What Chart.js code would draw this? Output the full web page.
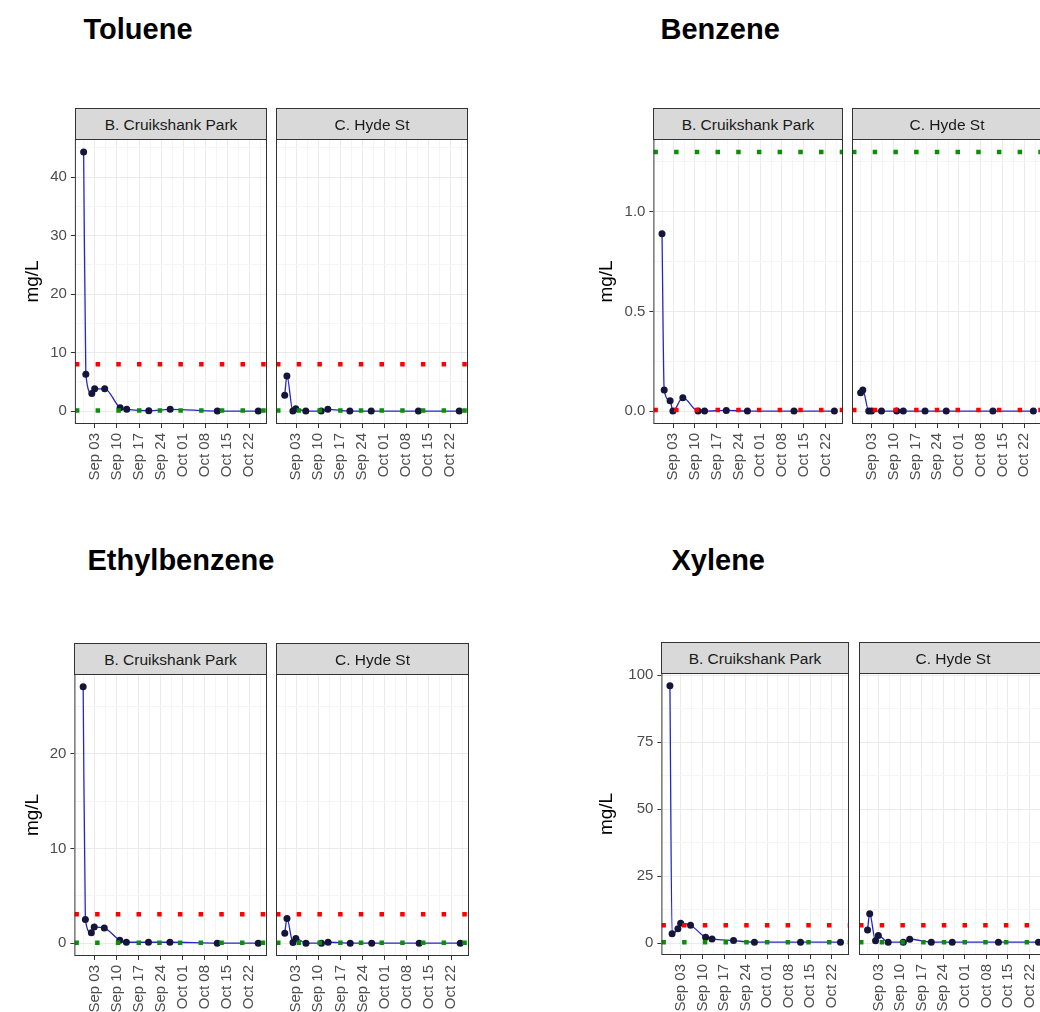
<!DOCTYPE html>
<html>
<head>
<meta charset="utf-8">
<script src="https://cdn.jsdelivr.net/npm/chart.js@4.4.1/dist/chart.umd.min.js"></script>
<style>
  html, body { margin: 0; padding: 0; background: #fff; }
  #page { position: relative; width: 1040px; height: 1012px; overflow: hidden; font-family: "Liberation Sans", Arial, sans-serif; }
  .title { position: absolute; font-weight: bold; font-size: 29px; line-height: 29px; color: #000; white-space: nowrap; }
  .strip { position: absolute; box-sizing: border-box; border: 1px solid #333; background: #d9d9d9; color: #1a1a1a; font-size: 15.5px; text-align: center; white-space: nowrap; }
  .strip span { position: relative; top: 1px; }
  canvas { position: absolute; }
</style>
</head>
<body>
<div id="page"></div>
<script>
// sampling days, counted from 31 Aug (Sep 03 = 3, Oct 01 = 31)
const sampleDay = [-0.6, 0.1, 2, 2.9, 6.1, 11, 13.1, 20.1, 26.9, 41.9, 54.9];
const sites = ['B. Cruikshank Park', 'C. Hyde St'];

const xTickDays = [3, 10, 17, 24, 31, 38, 45, 52];
const xTickLabels = ['Sep 03', 'Sep 10', 'Sep 17', 'Sep 24', 'Oct 01', 'Oct 08', 'Oct 15', 'Oct 22'];
const xMinorDays = [-0.5, 6.5, 13.5, 20.5, 27.5, 34.5, 41.5, 48.5, 55.5];

// mg/L per sample, site B then site C; limits = [red, green]
const tolueneB = [44.3, 6.3, 3.0, 3.8, 3.8, 0.55, 0.3, 0.05, 0.3, 0, 0];
const tolueneC = [2.7, 6.0, 0, 0.4, 0, 0, 0.3, 0, 0, 0, 0];
const tolueneLimits = [8, 0.1];
const tolueneYTicks = [0, 10, 20, 30, 40];
const tolueneYLabels = ['0', '10', '20', '30', '40'];
const tolueneYMinor = [5, 15, 25, 35, 45];

const benzeneB = [0.89, 0.106, 0.052, 0, 0.067, 0, 0, 0.003, 0, 0, 0];
const benzeneC = [0.092, 0.106, 0, 0, 0, 0, 0, 0, 0, 0, 0];
const benzeneLimits = [0.005, 1.3];
const benzeneYTicks = [0, 0.5, 1.0];
const benzeneYLabels = ['0.0', '0.5', '1.0'];
const benzeneYMinor = [0.25, 0.75, 1.25];

const ethylB = [27.1, 2.5, 1.1, 1.7, 1.6, 0.3, 0.1, 0.1, 0.1, 0, 0];
const ethylC = [1.05, 2.6, 0.07, 0.5, 0, 0, 0.1, 0, 0, 0, 0];
const ethylLimits = [3.05, 0.05];
const ethylYTicks = [0, 10, 20];
const ethylYLabels = ['0', '10', '20'];
const ethylYMinor = [5, 15, 25];

const xyleneB = [96.0, 3.5, 5.4, 7.5, 6.7, 2.2, 1.6, 1.0, 0.4, 0.4, 0.4];
const xyleneC = [4.9, 11.0, 0.9, 2.9, 0.4, 0.4, 1.5, 0.4, 0.4, 0.4, 0.4];
const xyleneLimits = [6.7, 0.4];
const xyleneYTicks = [0, 25, 50, 75, 100];
const xyleneYLabels = ['0', '25', '50', '75', '100'];
const xyleneYMinor = [12.5, 37.5, 62.5, 87.5];

const panels = [
  { name: 'Toluene', series: [tolueneB, tolueneC], limits: tolueneLimits,
    yTicks: tolueneYTicks, yLabels: tolueneYLabels, yMinor: tolueneYMinor,
    titleX: 83.5, titleBase: 39, stripTop: 108, plotTop: 139, plotBottom: 424, yTitleX: 32.5,
    facets: [[75, 267], [276, 468]] },
  { name: 'Benzene', series: [benzeneB, benzeneC], limits: benzeneLimits,
    yTicks: benzeneYTicks, yLabels: benzeneYLabels, yMinor: benzeneYMinor,
    titleX: 660.5, titleBase: 39, stripTop: 108, plotTop: 139, plotBottom: 424, yTitleX: 606,
    facets: [[653, 843], [852, 1042]] },
  { name: 'Ethylbenzene', series: [ethylB, ethylC], limits: ethylLimits,
    yTicks: ethylYTicks, yLabels: ethylYLabels, yMinor: ethylYMinor,
    titleX: 87.5, titleBase: 570, stripTop: 643, plotTop: 674, plotBottom: 956, yTitleX: 32,
    facets: [[74, 267], [276, 469]] },
  { name: 'Xylene', series: [xyleneB, xyleneC], limits: xyleneLimits,
    yTicks: xyleneYTicks, yLabels: xyleneYLabels, yMinor: xyleneYMinor,
    titleX: 671.5, titleBase: 570, stripTop: 642, plotTop: 673, plotBottom: 955, yTitleX: 606,
    facets: [[661, 849], [859, 1047]] }
];

const FONT = '"Liberation Sans", Arial, sans-serif';
const page = document.getElementById('page');

// ggplot-style 5% expansion of the data range
function expandRange(values) {
  const lo = Math.min(...values), hi = Math.max(...values);
  const pad = (hi - lo) * 0.05;
  return [lo - pad, hi + pad];
}

const panelBorder = {
  id: 'panelBorder',
  afterDraw(chart) {
    const a = chart.chartArea, c = chart.ctx;
    c.save();
    c.strokeStyle = '#333';
    c.lineWidth = 1;
    c.strokeRect(a.left + 0.5, a.top + 0.5, a.right - a.left - 1, a.bottom - a.top - 1);
    c.restore();
  }
};

function makeFacet(p, k, xLim, yLim) {
  const [left, right] = p.facets[k];
  const first = k === 0;
  const padTop = 20, padLeft = 10, padRight = 30, xAxisH = 60;
  const canvasLeft = first ? p.yTitleX - 15.4 : left - padLeft;
  const yW = first ? left - canvasLeft : 0;
  const w = Math.round(right - canvasLeft + padRight);
  const h = p.plotBottom - p.plotTop + padTop + xAxisH;

  // strip label
  const strip = document.createElement('div');
  strip.className = 'strip';
  strip.style.left = left + 'px';
  strip.style.top = p.stripTop + 'px';
  strip.style.width = (right - left) + 'px';
  strip.style.height = (p.plotTop - p.stripTop + 1) + 'px';
  strip.style.lineHeight = (p.plotTop - p.stripTop - 1) + 'px';
  strip.innerHTML = '<span>' + sites[k] + '</span>';
  page.appendChild(strip);

  const cv = document.createElement('canvas');
  cv.width = w; cv.height = h;
  cv.style.width = w + 'px'; cv.style.height = h + 'px';
  cv.style.left = canvasLeft + 'px';
  cv.style.top = (p.plotTop - padTop) + 'px';
  page.appendChild(cv);

  const yAll = p.yTicks.concat(p.yMinor).sort((a, b) => a - b);
  const xAll = xTickDays.concat(xMinorDays).filter(v => v >= xLim[0] && v <= xLim[1]).sort((a, b) => a - b);
  const yMajor = v => p.yTicks.indexOf(v) >= 0;
  const xMajor = v => xTickDays.indexOf(v) >= 0;

  const limitLine = v => [{ x: xLim[0], y: v }, { x: xLim[1], y: v }];
  const vals = p.series[k];

  new Chart(cv, {
    type: 'line',
    data: {
      datasets: [
        { data: limitLine(p.limits[0]), borderColor: '#ff0000', borderWidth: 4.5, borderDash: [4.5, 16.2],
          pointRadius: 0, order: 0 },
        { data: limitLine(p.limits[1]), borderColor: '#0a8f0a', borderWidth: 4.5, borderDash: [4.5, 16.2],
          pointRadius: 0, order: 0 },
        { data: sampleDay.map((d, i) => ({ x: d, y: vals[i] })), borderColor: '#2626c8', borderWidth: 1.3,
          pointRadius: 3.5, pointBackgroundColor: '#15153a', pointBorderWidth: 0,
          cubicInterpolationMode: 'monotone', order: 1 }
      ]
    },
    options: {
      responsive: false,
      animation: false,
      devicePixelRatio: 1,
      layout: { padding: { top: padTop, left: first ? 0 : padLeft, right: padRight, bottom: 0 } },
      plugins: { legend: { display: false }, tooltip: { enabled: false } },
      scales: {
        x: {
          type: 'linear', min: xLim[0], max: xLim[1],
          afterBuildTicks: ax => { ax.ticks = xAll.map(v => ({ value: v })); },
          afterFit: ax => { ax.height = xAxisH; },
          border: { display: false },
          grid: {
            color: c => xMajor(c.tick.value) ? '#ebebeb' : '#f5f5f5',
            lineWidth: 1, tickLength: 4,
            tickColor: c => xMajor(c.tick.value) ? '#333' : 'rgba(0,0,0,0)'
          },
          ticks: {
            autoSkip: false, minRotation: 90, maxRotation: 90, padding: 5,
            color: '#4d4d4d', font: { size: 15, family: FONT },
            callback: v => { const i = xTickDays.indexOf(v); return i < 0 ? '' : xTickLabels[i]; }
          }
        },
        y: {
          type: 'linear', min: yLim[0], max: yLim[1],
          afterBuildTicks: ax => { ax.ticks = yAll.map(v => ({ value: v })); },
          afterFit: ax => { ax.width = yW; },
          border: { display: false },
          grid: {
            color: c => yMajor(c.tick.value) ? '#ebebeb' : '#f5f5f5',
            lineWidth: 1, drawTicks: first, tickLength: 4,
            tickColor: c => yMajor(c.tick.value) ? '#333' : 'rgba(0,0,0,0)'
          },
          ticks: {
            display: first, autoSkip: false, padding: 4,
            color: '#4d4d4d', font: { size: 15, family: FONT },
            callback: v => { const i = p.yTicks.indexOf(v); return i < 0 ? '' : p.yLabels[i]; }
          },
          title: {
            display: first, text: 'mg/L', color: '#000',
            font: { size: 19, family: FONT }, padding: { top: 4, bottom: 0 }
          }
        }
      }
    },
    plugins: [panelBorder]
  });
}

const xLim = expandRange(sampleDay);

panels.forEach(p => {
  const t = document.createElement('div');
  t.className = 'title';
  t.textContent = p.name;
  t.style.left = p.titleX + 'px';
  t.style.top = (p.titleBase - 24.5) + 'px';
  page.appendChild(t);

  const yLim = expandRange(p.series[0].concat(p.series[1], p.limits));
  makeFacet(p, 0, xLim, yLim);
  makeFacet(p, 1, xLim, yLim);
});
</script>
</body>
</html>
